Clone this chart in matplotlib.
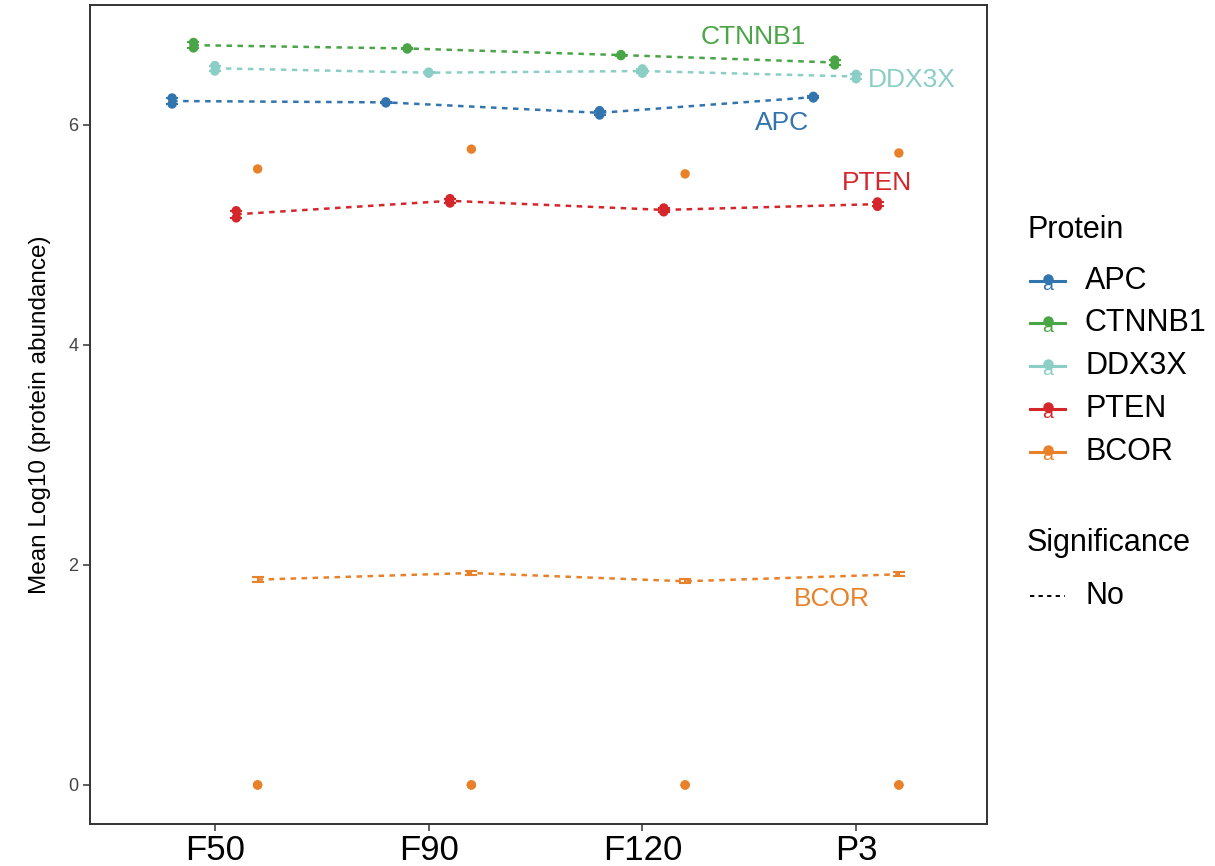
import numpy as np
import matplotlib
matplotlib.use('Agg')
import matplotlib.pyplot as plt
from matplotlib.lines import Line2D

plt.rcParams['font.family'] = ['Liberation Sans', 'DejaVu Sans']

# time points and proteins
timepoints = ['F50', 'F90', 'F120', 'P3']
proteins = ['APC', 'CTNNB1', 'DDX3X', 'PTEN', 'BCOR']
colors = ['#3274AE', '#4AA546', '#8BCEC6', '#D4262B', '#E8812A']

# replicate values (log10 abundance), one list per time point
apc = [[6.245, 6.19], [6.21, 6.20], [6.13, 6.09], [6.26, 6.245]]
ctnnb1 = [[6.75, 6.70], [6.70, 6.69], [6.64, 6.63], [6.59, 6.545]]
ddx3x = [[6.54, 6.49], [6.48, 6.47], [6.51, 6.47], [6.46, 6.42]]
pten = [[5.22, 5.155], [5.33, 5.29], [5.245, 5.21], [5.30, 5.26]]
bcor = [[0.0, 0.0, 5.60], [0.0, 0.0, 5.78], [0.0, 0.0, 5.555], [0.0, 0.0, 5.745]]
bcor_err = [0.02, 0.02, 0.02, 0.02]

# text labels (x in category units, y in data units)
label_x = [3.654, 3.519, 4.262, 4.098, 3.888]
label_y = [6.02, 6.80, 6.41, 5.47, 1.69]

reps = [apc, ctnnb1, ddx3x, pten, bcor]
offsets = [-0.2, -0.1, 0.0, 0.1, 0.2]

fig = plt.figure(figsize=(12.15, 8.66), dpi=100)
ax = fig.add_axes([0.0741, 0.0485, 0.7382, 0.9457])

x = np.arange(1, len(timepoints) + 1)
for i, prot in enumerate(proteins):
    xs = x + offsets[i]
    means = np.array([np.mean(r) for r in reps[i]])
    if prot == 'BCOR':
        err = np.array(bcor_err)
    else:
        err = np.array([(max(r) - min(r)) / 2 for r in reps[i]])
    ax.plot(xs, means, linestyle=(0, (2.2, 2.2)), lw=1.8, color=colors[i], zorder=2)
    ax.errorbar(xs, means, yerr=err, fmt='none', ecolor=colors[i], elinewidth=1.5,
                capsize=4, capthick=1.5, zorder=3)
    for j, r in enumerate(reps[i]):
        ax.scatter([xs[j]] * len(r), r, s=46, color=colors[i], edgecolors='none', zorder=4)
    ax.text(label_x[i], label_y[i], prot, color=colors[i], fontsize=19,
            ha='center', va='center')

ax.set_xlim(0.416, 4.612)
ax.set_ylim(-0.355, 7.09)
ax.set_xticks(x)
ax.set_xticklabels(timepoints, fontsize=25)
ax.set_yticks([0, 2, 4, 6])
ax.set_yticklabels(['0', '2', '4', '6'], fontsize=13, color='#444444')
ax.tick_params(axis='both', length=5, width=1.2, color='#444444')
ax.tick_params(axis='x', pad=2)
ax.set_ylabel('Mean Log10 (protein abundance)', fontsize=17.5, labelpad=12)
for s in ax.spines.values():
    s.set_linewidth(1.4)
    s.set_color('#333333')

# legend drawn in figure pixel space
W, H = 1215, 866
def fx(px):
    return px / W
def fy(py):
    return 1 - py / H

fig.text(fx(1027), fy(230), 'Protein', fontsize=22, ha='left', va='center')
rows = [281, 323, 366, 409, 452]
for i, prot in enumerate(proteins):
    y = fy(rows[i])
    fig.add_artist(Line2D([fx(1030), fx(1065)], [y, y], color=colors[i], lw=2.2))
    fig.add_artist(Line2D([fx(1047.5)], [fy(rows[i] - 2)], marker='o', markersize=7.5,
                          color=colors[i], markeredgewidth=0))
    fig.text(fx(1047.5), fy(rows[i] + 4), 'a', color=colors[i], fontsize=14,
             ha='center', va='center')
    fig.text(fx(1085), y, prot, fontsize=22, ha='left', va='center')

fig.text(fx(1027), fy(543), 'Significance', fontsize=22, ha='left', va='center')
fig.add_artist(Line2D([fx(1030), fx(1065)], [fy(596), fy(596)], color='black', lw=1.4,
                      linestyle=(0, (2.2, 2.2))))
fig.text(fx(1085), fy(596), 'No', fontsize=22, ha='left', va='center')

fig.savefig('out.png', dpi=100)
